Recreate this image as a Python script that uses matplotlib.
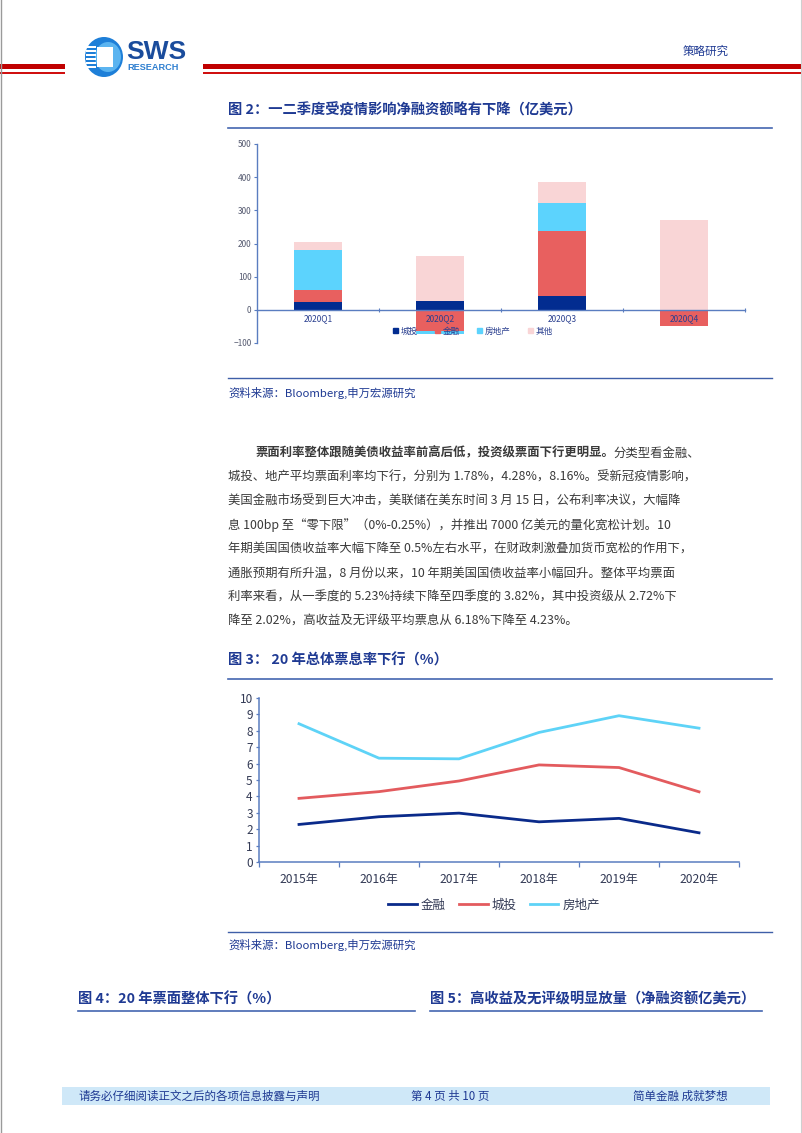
import matplotlib
matplotlib.use('Agg')
import matplotlib.pyplot as plt
from matplotlib.patches import Rectangle, Ellipse
import numpy as np

plt.rcParams['font.family'] = ['Noto Sans CJK SC', 'DejaVu Sans']

# ---------------- data ----------------
quarters = ['2020Q1', '2020Q2', '2020Q3', '2020Q4']
bar_series = ['城投', '金融', '房地产', '其他']
chengtou = [23, 28, 41, 0]
jinrong = [38, -64, 196, -49]
fangdichan = [120, -8, 85, 0]
qita = [23, 133, 63, 272]
bar_yticks = [-100, 0, 100, 200, 300, 400, 500]

years = ['2015年', '2016年', '2017年', '2018年', '2019年', '2020年']
line_series = ['金融', '城投', '房地产']
jr_rate = [2.29, 2.76, 2.98, 2.45, 2.66, 1.78]
ct_rate = [3.88, 4.29, 4.94, 5.92, 5.76, 4.28]
fdc_rate = [8.43, 6.33, 6.29, 7.90, 8.92, 8.16]
line_yticks = list(range(0, 11))

title2 = '图 2：一二季度受疫情影响净融资额略有下降（亿美元）'
title3 = '图 3： 20 年总体票息率下行（%）'
title4 = '图 4：20 年票面整体下行（%）'
title5 = '图 5：高收益及无评级明显放量（净融资额亿美元）'
source = '资料来源：Bloomberg,申万宏源研究'
para_bold = '票面利率整体跟随美债收益率前高后低，投资级票面下行更明显。'
para_first_rest = '分类型看金融、'
para_lines = [
    '城投、地产平均票面利率均下行，分别为 1.78%，4.28%，8.16%。受新冠疫情影响，',
    '美国金融市场受到巨大冲击，美联储在美东时间 3 月 15 日，公布利率决议，大幅降',
    '息 100bp 至“零下限”（0%-0.25%），并推出 7000 亿美元的量化宽松计划。10',
    '年期美国国债收益率大幅下降至 0.5%左右水平，在财政刺激叠加货币宽松的作用下，',
    '通胀预期有所升温，8 月份以来，10 年期美国国债收益率小幅回升。整体平均票面',
    '利率来看，从一季度的 5.23%持续下降至四季度的 3.82%，其中投资级从 2.72%下',
    '降至 2.02%，高收益及无评级平均票息从 6.18%下降至 4.23%。',
]
footer_left = '请务必仔细阅读正文之后的各项信息披露与声明'
footer_mid = '第 4 页 共 10 页'
footer_right = '简单金融 成就梦想'

# ---------------- figure ----------------
W, H = 802, 1133
NAVY = '#1F3A93'
AXBLUE = '#5A7DC0'
fig = plt.figure(figsize=(W / 100, H / 100), dpi=100)
fig.patch.set_facecolor('white')

def rect(x0, y0, x1, y1):
    return [x0 / W, 1 - y1 / H, (x1 - x0) / W, (y1 - y0) / H]

bg = fig.add_axes([0, 0, 1, 1])
bg.set_xlim(0, W)
bg.set_ylim(H, 0)
bg.axis('off')

# page borders
bg.plot([1, 1], [0, H], color='#9a9a9a', lw=1)
bg.plot([W - 1.5, W - 1.5], [0, H], color='#cfcfcf', lw=0.8)

# header red lines
for xa, xb in [(0, 65), (203, W)]:
    bg.add_patch(Rectangle((xa, 64), xb - xa, 5, color='#C00000', lw=0))
    bg.add_patch(Rectangle((xa, 72), xb - xa, 2, color='#D01010', lw=0))

# logo
bg.add_patch(Rectangle((66, 30), 136, 50, color='white', lw=0, zorder=2))
bg.add_patch(Ellipse((104, 57), 38, 40, color='#1E7FD8', lw=0, zorder=3))
bg.add_patch(Ellipse((108, 57), 26, 30, color='#5BB4F0', lw=0, zorder=3))
bg.add_patch(Rectangle((97, 47), 16, 20, color='white', lw=0, zorder=4))
for yy in range(46, 70, 4):
    bg.add_patch(Rectangle((86, yy), 10, 2, color='white', lw=0, zorder=4))
bg.text(126, 52, 'SWS', fontsize=19, fontweight='bold', color='#1A4C9C',
        family='Liberation Sans', va='center', ha='left', zorder=5)
bg.text(127, 67.5, 'RESEARCH', fontsize=6.6, fontweight='bold', color='#2E7FD0',
        family='Liberation Sans', va='center', ha='left', zorder=5)
bg.text(683, 51, '策略研究', fontsize=8.3, color=NAVY, va='center', ha='left')

# titles / underlines / sources
def title(x0, x1, y, yline, txt, size=10.3):
    bg.text(x0, y, txt, fontsize=size, fontweight='bold', color=NAVY, va='center', ha='left')
    bg.plot([x0, x1], [yline, yline], color='#4466B0', lw=1.2)

title(228, 772, 110, 128, title2)
title(228, 772, 660, 679, title3)
title(78, 415, 999, 1011, title4)
title(430, 762, 999, 1011, title5)

for yl, yt in [(377.5, 393), (931.5, 945)]:
    bg.plot([228, 772], [yl, yl], color='#3F5FA8', lw=1.0)
    bg.text(228, yt, source, fontsize=8.2, color=NAVY, va='center', ha='left')

# paragraph
PCOL = '#3a3a3a'
tb = bg.text(255, 453, para_bold, fontsize=8.9, fontweight='bold', color=PCOL, va='center', ha='left')
bg.annotate(para_first_rest, xy=(1, 0), xycoords=tb, va='bottom', ha='left',
            fontsize=8.9, color=PCOL)
for i, line in enumerate(para_lines):
    bg.text(228, 477 + i * 24.0, line, fontsize=8.9, color=PCOL, va='center', ha='left')

# footer
bg.add_patch(Rectangle((62, 1087), 708, 18, color='#CFE8F8', lw=0))
bg.text(78, 1096.5, footer_left, fontsize=8.3, color=NAVY, va='center', ha='left')
bg.text(411, 1096.5, footer_mid, fontsize=8.3, color=NAVY, va='center', ha='left')
bg.text(633, 1096.5, footer_right, fontsize=8.3, color=NAVY, va='center', ha='left')

# ---------------- chart 1: stacked bars ----------------
ax1 = fig.add_axes(rect(257, 144, 745, 343))
ax1.set_facecolor('none')
bar_colors = ['#022C90', '#E8605F', '#5CD3FD', '#F9D5D6']
xq = np.arange(len(quarters))
pos_base = np.zeros(len(quarters))
neg_base = np.zeros(len(quarters))
handles1 = []
for name, vals, c in zip(bar_series, [chengtou, jinrong, fangdichan, qita], bar_colors):
    v = np.array(vals, dtype=float)
    p = np.where(v > 0, v, 0)
    n = np.where(v < 0, v, 0)
    ax1.bar(xq, p, 0.4, bottom=pos_base, color=c, lw=0, zorder=2)
    ax1.bar(xq, n, 0.4, bottom=neg_base, color=c, lw=0, zorder=2)
    pos_base += p
    neg_base += n
    handles1.append(Rectangle((0, 0), 1, 1, color=c, label=name))
ax1.set_xlim(-0.5, 3.5)
ax1.set_ylim(-100, 500)
for s in ['top', 'right']:
    ax1.spines[s].set_visible(False)
ax1.spines['left'].set_color(AXBLUE)
ax1.spines['bottom'].set_color(AXBLUE)
ax1.spines['bottom'].set_position(('data', 0))
ax1.spines['left'].set_linewidth(1.0)
ax1.spines['bottom'].set_linewidth(1.0)
ax1.set_yticks(bar_yticks)
ax1.tick_params(axis='y', labelsize=6, colors=AXBLUE, labelcolor='#555a70', length=2, width=0.8, pad=2)
ax1.set_xticks([0.5, 1.5, 2.5, 3.5])
ax1.set_xticklabels([])
ax1.tick_params(axis='x', direction='inout', length=2.5, width=0.8, colors=AXBLUE)
for i, q in enumerate(quarters):
    ax1.annotate(q, (xq[i], 0), xytext=(0, -3.0), textcoords='offset points',
                 ha='center', va='top', fontsize=6.0, color='#2A3F8F', zorder=5)
fig.legend(handles=handles1, loc='center', bbox_to_anchor=(473 / W, 1 - 331 / H), ncol=4,
           fontsize=6.2, frameon=False, handlelength=0.6, handleheight=0.6,
           handletextpad=0.3, columnspacing=2.0, labelcolor='#2A3F8F')

# ---------------- chart 2: lines ----------------
ax2 = fig.add_axes(rect(259, 698, 739, 862))
ax2.set_facecolor('none')
line_colors = ['#0A2A8A', '#E35B5E', '#5ED3F7']
xs = np.arange(len(years))
for name, vals, c in zip(line_series, [jr_rate, ct_rate, fdc_rate], line_colors):
    ax2.plot(xs, vals, color=c, lw=2.0, label=name)
ax2.set_xlim(-0.5, len(years) - 0.5)
ax2.set_ylim(0, 10)
for s in ['top', 'right']:
    ax2.spines[s].set_visible(False)
for s in ['left', 'bottom']:
    ax2.spines[s].set_color(AXBLUE)
    ax2.spines[s].set_linewidth(1.1)
ax2.set_yticks(line_yticks)
ax2.tick_params(axis='y', labelsize=8.5, colors=AXBLUE, labelcolor='#333a55', length=2.5, width=0.9, pad=2)
ax2.set_xticks(np.arange(-0.5, len(years), 1.0))
ax2.set_xticklabels([])
ax2.tick_params(axis='x', which='major', length=3.5, width=0.9, colors=AXBLUE)
ax2.set_xticks(xs, minor=True)
ax2.set_xticklabels(years, minor=True)
ax2.tick_params(axis='x', which='minor', length=0, labelsize=8.7, labelcolor='#333a55', pad=8)
fig.legend(loc='center', bbox_to_anchor=(494 / W, 1 - 905 / H), ncol=3, fontsize=9,
           frameon=False, handlelength=2.3, handletextpad=0.3, columnspacing=1.05,
           labelcolor='#333a55', handles=ax2.get_lines())

fig.savefig('out.png', dpi=100, facecolor='white')
